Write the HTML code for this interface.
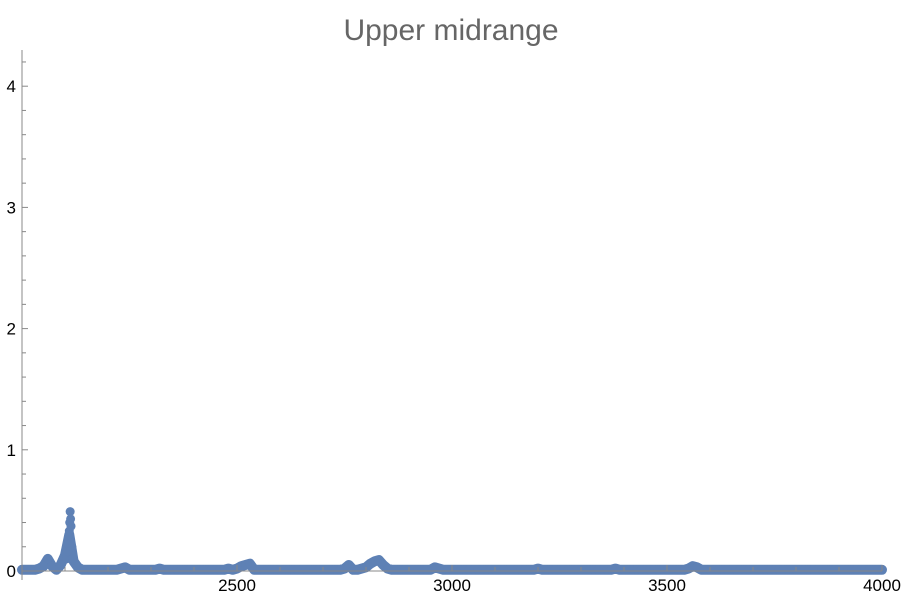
<!DOCTYPE html>
<html><head><meta charset="utf-8">
<style>
body{margin:0;background:#fff;}
svg{display:block;font-family:"Liberation Sans",sans-serif;}
</style></head>
<body>
<svg id="chart" width="921" height="610">
<text x="451" y="40" text-anchor="middle" font-size="30" fill="#666">Upper midrange</text>
<g id="marks"></g>
<g id="axes"></g>
</svg>
<script>
// series sampled every 10 units from 2000 to 4000
const xStart = 2000, xStep = 10;
const ys = [
0.01,0.01,0.01,0.01,0.02,0.04,0.1,0.04,0.01,0.05,0.13,0.3,0.08,0.03,0.01,0.01,0.01,0.01,0.01,0.01,
0.01,0.01,0.01,0.02,0.03,0.01,0.01,0.01,0.01,0.01,0.01,0.01,0.02,0.01,0.01,0.01,0.01,0.01,0.01,0.01,
0.01,0.01,0.01,0.01,0.01,0.01,0.01,0.01,0.02,0.01,0.02,0.04,0.05,0.06,0.01,0.01,0.01,0.01,0.01,0.01,
0.01,0.01,0.01,0.01,0.01,0.01,0.01,0.01,0.01,0.01,0.01,0.01,0.01,0.01,0.01,0.02,0.05,0.01,0.01,0.02,
0.03,0.06,0.08,0.09,0.05,0.02,0.01,0.01,0.01,0.01,0.01,0.01,0.01,0.01,0.01,0.01,0.03,0.02,0.01,0.01,
0.01,0.01,0.01,0.01,0.01,0.01,0.01,0.01,0.01,0.01,0.01,0.01,0.01,0.01,0.01,0.01,0.01,0.01,0.01,0.01,
0.02,0.01,0.01,0.01,0.01,0.01,0.01,0.01,0.01,0.01,0.01,0.01,0.01,0.01,0.01,0.01,0.01,0.01,0.02,0.01,
0.01,0.01,0.01,0.01,0.01,0.01,0.01,0.01,0.01,0.01,0.01,0.01,0.01,0.01,0.01,0.02,0.04,0.03,0.01,0.01,
0.01,0.01,0.01,0.01,0.01,0.01,0.01,0.01,0.01,0.01,0.01,0.01,0.01,0.01,0.01,0.01,0.01,0.01,0.01,0.01,
0.01,0.01,0.01,0.01,0.01,0.01,0.01,0.01,0.01,0.01,0.01,0.01,0.01,0.01,0.01,0.01,0.01,0.01,0.01,0.01,
0.01];
// extra samples around the main peak
const peakXs = [2104,2106,2108,2110,2111,2112,2113,2114,2116,2118];
const peakYs = [0.1,0.16,0.22,0.33,0.4,0.49,0.43,0.37,0.2,0.1];
const xTicks = [2500,3000,3500,4000];
const yTicks = [0,1,2,3,4];

const X0=22, X1=882, Y0=571, PPU=121.2;
const sx = v => X0 + (v-2000)*(X1-X0)/2000;
const sy = v => Y0 - v*PPU;
const NS='http://www.w3.org/2000/svg';
const marks=document.getElementById('marks'), axes=document.getElementById('axes');
function mk(tag, attrs, parent){const e=document.createElementNS(NS,tag);for(const k in attrs)e.setAttribute(k,attrs[k]);parent.appendChild(e);return e;}
const col='#5e81b5';
let pts=ys.map((v,i)=>sx(xStart+i*xStep)+','+sy(v)).join(' ');
const band=mk('polyline',{points:pts,fill:'none',stroke:col,'stroke-width':10,'stroke-linejoin':'round','stroke-linecap':'round'},marks);


ys.forEach((v,i)=>{
  const c=mk('circle',{cx:sx(xStart+i*xStep),cy:sy(v),r:4.5,fill:col},marks);
  
  
});
peakXs.forEach((x,i)=>{
  const c=mk('circle',{cx:sx(x),cy:sy(peakYs[i]),r:4.5,fill:col},marks);
  
  
});
const ax='#888';
const xl=mk('line',{x1:X0,y1:Y0,x2:X1,y2:Y0,stroke:ax,'stroke-width':1},axes);


const yl=mk('line',{x1:X0,y1:50,x2:X0,y2:580,stroke:ax,'stroke-width':1},axes);


for(let v=2100;v<=4000;v+=100){
  const major=v%500===0;
  mk('line',{x1:sx(v),y1:Y0,x2:sx(v),y2:Y0-(major?6:4),stroke:ax},axes);
}
for(let v=0.2;v<4.3;v+=0.2){
  const major=Math.abs(v-Math.round(v))<1e-6;
  mk('line',{x1:X0,y1:sy(v),x2:X0+(major?6:4),y2:sy(v),stroke:ax},axes);
}
xTicks.forEach(v=>{
  const t=mk('text',{x:sx(v),y:591,'text-anchor':'middle','font-size':17,fill:'#000'},axes);
  t.textContent=v;
  
  
});
yTicks.forEach(v=>{
  const t=mk('text',{x:16,y:sy(v)+6,'text-anchor':'end','font-size':17,fill:'#000'},axes);
  t.textContent=v;
  
  
});
</script>
</body></html>
